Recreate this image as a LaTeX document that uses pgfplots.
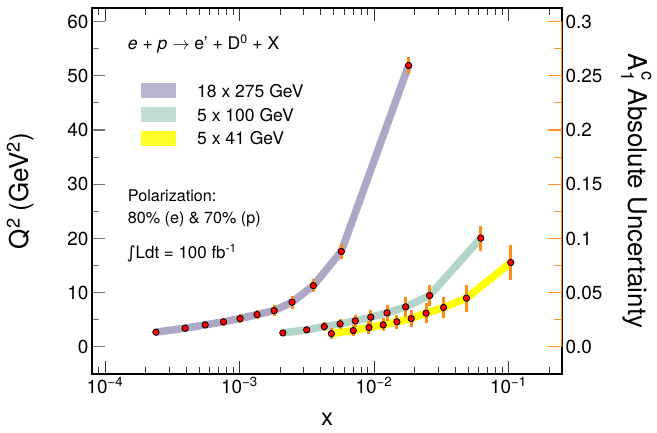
\documentclass[border=0pt]{standalone}
\usepackage{fontspec}
\setmainfont{TeX Gyre Heros}
\newfontfamily\dejavu{DejaVu Sans}
\usepackage{pgfplots}
\pgfplotsset{compat=1.18}
\usepackage{pgfplotstable}

\definecolor{cA}{RGB}{172,168,198}
\definecolor{cB}{RGB}{180,212,202}
\definecolor{cC}{RGB}{255,255,0}
\definecolor{lA}{RGB}{185,181,207}
\definecolor{lB}{RGB}{192,222,214}
\definecolor{lC}{RGB}{255,255,40}
\definecolor{eorange}{RGB}{255,140,20}
\definecolor{axorange}{RGB}{255,145,40}

% 18 x 275 GeV
\pgfplotstableread{
x y e
2.39e-4 2.71 0.5
3.94e-4 3.45 0.5
5.56e-4 4.06 0.6
7.60e-4 4.62 0.7
1.01e-3 5.22 0.8
1.35e-3 5.96 0.9
1.81e-3 6.70 1.0
2.46e-3 8.25 1.2
3.54e-3 11.3 1.2
5.71e-3 17.6 1.4
1.81e-2 51.9 1.5
}\dataA
% 5 x 100 GeV
\pgfplotstableread{
x y e
2.10e-3 2.58 0.4
3.16e-3 3.14 0.5
4.27e-3 3.75 0.8
5.60e-3 4.25 0.95
7.26e-3 4.80 1.1
9.46e-3 5.48 1.4
1.25e-2 6.28 1.5
1.72e-2 7.38 1.8
2.59e-2 9.47 1.9
6.22e-2 20.07 2.3
}\dataB
% 5 x 41 GeV
\pgfplotstableread{
x y e
4.82e-3 2.46 1.0
7.02e-3 3.01 1.0
9.18e-3 3.56 1.2
1.17e-2 4.06 1.2
1.48e-2 4.62 1.35
1.89e-2 5.22 1.6
2.44e-2 6.22 1.8
3.29e-2 7.26 2.0
4.87e-2 8.99 2.5
0.104 15.56 3.2
}\dataC

\begin{document}
\begin{tikzpicture}
\path[use as bounding box] (0bp,0bp) rectangle (657bp,433bp);
\begin{axis}[
  at={(92bp,59bp)}, anchor=south west,
  scale only axis, width=470bp, height=366bp,
  xmode=log, xmin=8e-5, xmax=0.25,
  ymin=-5, ymax=62.5,
  /pgf/number format/assume math mode=true,
  xtick={1e-4,1e-3,1e-2,1e-1},
  xticklabels={10\textsuperscript{\textminus 4},10\textsuperscript{\textminus 3},10\textsuperscript{\textminus 2},10\textsuperscript{\textminus 1}},
  minor xtick={8e-5,9e-5,2e-4,3e-4,4e-4,5e-4,6e-4,7e-4,8e-4,9e-4,2e-3,3e-3,4e-3,5e-3,6e-3,7e-3,8e-3,9e-3,2e-2,3e-2,4e-2,5e-2,6e-2,7e-2,8e-2,9e-2,2e-1},
  ytick={0,10,20,30,40,50,60},
  minor ytick={-5,5,15,25,35,45,55},
  ytick pos=left,
  tick align=inside,
  major tick length=13bp, minor tick length=7bp,
  x tick style={color=black!80, line width=0.9bp},
  y tick style={color=black!55, line width=1.1bp},
  axis line style={line width=1.2bp},
  ticklabel style={font=\fontsize{19}{22}\selectfont},
  xlabel={x}, ylabel={Q\textsuperscript{2} (GeV\textsuperscript{2})},
  xlabel style={font=\fontsize{24}{28}\selectfont, at={(axis description cs:0.5,-0.124)}, anchor=center},
  ylabel style={font=\fontsize{26}{30}\selectfont, at={(axis description cs:-0.152,0.5)}, anchor=center},
]
\addplot[cA, line width=7.5bp, line join=round] table[x=x,y=y] {\dataA};
\addplot[cB, line width=7.5bp, line join=round] table[x=x,y=y] {\dataB};
\addplot[cC, line width=7.5bp, line join=round] table[x=x,y=y] {\dataC};
\addplot[only marks, mark=*, mark size=3.2bp, mark options={fill=red, draw=black, line width=0.8bp},
  error bars/.cd, y dir=both, y explicit, error mark=none,
  error bar style={line width=3bp, eorange}] table[x=x,y=y,y error=e] {\dataA};
\addplot[only marks, mark=*, mark size=3.2bp, mark options={fill=red, draw=black, line width=0.8bp},
  error bars/.cd, y dir=both, y explicit, error mark=none,
  error bar style={line width=3bp, eorange}] table[x=x,y=y,y error=e] {\dataB};
\addplot[only marks, mark=*, mark size=3.2bp, mark options={fill=red, draw=black, line width=0.8bp},
  error bars/.cd, y dir=both, y explicit, error mark=none,
  error bar style={line width=3bp, eorange}] table[x=x,y=y,y error=e] {\dataC};
\end{axis}
\begin{axis}[
  at={(92bp,59bp)}, anchor=south west,
  scale only axis, width=470bp, height=366bp,
  xmode=log, xmin=8e-5, xmax=0.25,
  ymin=-0.025, ymax=0.3125,
  axis x line=none, axis y line*=right,
  y axis line style={draw=none},
  tick align=inside,
  ytick={0,0.05,0.1,0.15,0.2,0.25,0.3},
  yticklabels={0.0,0.05,0.1,0.15,0.2,0.25,0.3},
  minor ytick={0.025,0.075,0.125,0.175,0.225,0.275},
  major tick length=14bp, minor tick length=8bp,
  y tick style={color=axorange, line width=1.1bp},
  /pgf/number format/assume math mode=true,
  yticklabel style={font=\fontsize{19}{22}\selectfont, black},
  ylabel={A\rlap{\raisebox{0.15em}{\textsuperscript{c}}}\raisebox{-0.12em}{\textsubscript{1}} Absolute Uncertainty},
  ylabel style={font=\fontsize{26}{30}\selectfont, at={(axis description cs:1.158,0.5)}, anchor=center, rotate=180},
]
\draw[axorange, line width=1.2bp] (axis cs:0.25,0) -- (axis cs:0.25,0.3);
\end{axis}
% legend
\fill[lA] (141bp,335bp) rectangle (176bp,350bp);
\fill[lB] (141bp,311bp) rectangle (176bp,326bp);
\fill[lC] (141bp,287bp) rectangle (176bp,302bp);
\begin{scope}[every node/.style={inner sep=0pt, anchor=base west, font=\fontsize{17.6}{20}\selectfont}]
\node at (197bp,335.3bp) {18 x 275 GeV};
\node at (197bp,311.3bp) {5 x 100 GeV};
\node at (197bp,288bp) {5 x 41 GeV};
\node at (127.7bp,383.7bp) {\textit{e} + \textit{p} $\rightarrow$ e' + D\textsuperscript{0} + X};
\end{scope}
\begin{scope}[every node/.style={inner sep=0pt, anchor=base west, font=\fontsize{16.2}{19}\selectfont}]
\node at (127.7bp,231.3bp) {Polarization:};
\node at (127.7bp,209.7bp) {80\% (e) \& 70\% (p)};
\node[font=\fontsize{17}{20}\selectfont] at (126.7bp,174.7bp) {{\dejavu ∫}Ldt = 100 fb\textsuperscript{-1}};
\end{scope}
\end{tikzpicture}
\end{document}
